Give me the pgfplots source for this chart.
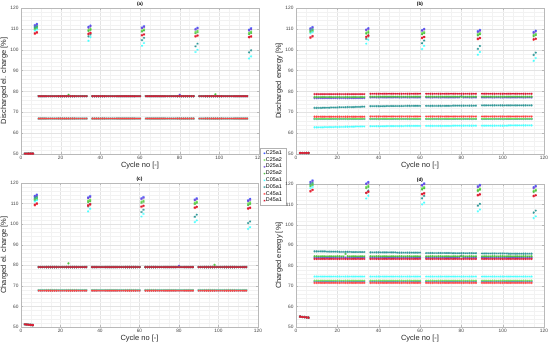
\documentclass[border=0pt]{standalone}
\usepackage{fontspec}
\setmainfont{Liberation Sans}
\usepackage{pgfplots}
\usepackage{pgfplotstable}
\pgfplotsset{compat=1.18}
\definecolor{cCa}{rgb}{0.25,0.35,1}
\definecolor{cCb}{rgb}{0.45,0.9,0.35}
\definecolor{cDa}{rgb}{0.45,0.3,0.85}
\definecolor{cDb}{rgb}{0.3,0.75,0.25}
\definecolor{cCf}{rgb}{0.3,1,1}
\definecolor{cDf}{rgb}{0.2,0.6,0.6}
\definecolor{cCr}{rgb}{1,0.25,0.25}
\definecolor{cDr}{rgb}{0.85,0.1,0.2}

\pgfplotstableread{
x c1 c2 d1 d2 c5 d5 c4 d4
2 50.2 50.2 50.2 50.2 50.2 50.2 50.2 50.2
3 50.2 50.2 50.2 50.2 50.2 50.2 50.2 50.2
4 50.2 50.2 50.2 50.2 50.2 50.2 50.2 50.2
5 50.2 50.2 50.2 50.2 50.2 50.2 50.2 50.2
6 50.2 50.2 50.2 50.2 50.2 50.2 50.2 50.2
7 111.8 110.4 111.4 109.9 109.2 110.8 107.6 107.9
8 112.4 110.9 112.0 110.4 109.7 111.3 108.1 108.4
9 67 67 77.7 77.7 67 77.7 67 77.7
10 67 67 77.7 77.7 67 77.7 67 77.7
11 67 67 77.7 77.7 67 77.7 67 77.7
12 67 67 77.7 77.7 67 77.7 67 77.7
13 67 67 77.7 77.7 67 77.7 67 77.7
14 67 67 77.7 77.7 67 77.7 67 77.7
15 67 67 77.7 77.7 67 77.7 67 77.7
16 67 67 77.7 77.7 67 77.7 67 77.7
17 67 67 77.7 77.7 67 77.7 67 77.7
18 67 67 77.7 77.7 67 77.7 67 77.7
19 67 67 77.7 77.7 67 77.7 67 77.7
20 67 67 77.7 77.7 67 77.7 67 77.7
21 67 67 77.7 77.7 67 77.7 67 77.7
22 67 67 77.7 77.7 67 77.7 67 77.7
23 67 67 77.7 77.7 67 77.7 67 77.7
24 67 67 77.7 78.4 67 77.7 67 77.7
25 67 67 77.7 77.7 67 77.7 67 77.7
26 67 67 77.7 77.7 67 77.7 67 77.7
27 67 67 77.7 77.7 67 77.7 67 77.7
28 67 67 77.7 77.7 67 77.7 67 77.7
29 67 67 77.7 77.7 67 77.7 67 77.7
30 67 67 77.7 77.7 67 77.7 67 77.7
31 67 67 77.7 77.7 67 77.7 67 77.7
32 67 67 77.7 77.7 67 77.7 67 77.7
33 67 67 77.7 77.7 67 77.7 67 77.7
34 111.0 109.6 110.6 109.0 104.3 106.4 107.4 107.7
35 111.6 110.1 111.2 109.5 106.0 107.3 107.9 108.1
36 67 67 77.7 77.7 67 77.7 67 77.7
37 67 67 77.7 77.7 67 77.7 67 77.7
38 67 67 77.7 77.7 67 77.7 67 77.7
39 67 67 77.7 77.7 67 77.7 67 77.7
40 67 67 77.7 77.7 67 77.7 67 77.7
41 67 67 77.7 77.7 67 77.7 67 77.7
42 67 67 77.7 77.7 67 77.7 67 77.7
43 67 67 77.7 77.7 67 77.7 67 77.7
44 67 67 77.7 77.7 67 77.7 67 77.7
45 67 67 77.7 77.7 67 77.7 67 77.7
46 67 67 77.7 77.7 67 77.7 67 77.7
47 67 67 77.7 77.7 67 77.7 67 77.7
48 67 67 77.7 77.7 67 77.7 67 77.7
49 67 67 77.7 77.7 67 77.7 67 77.7
50 67 67 77.7 77.7 67 77.7 67 77.7
51 67 67 77.7 77.7 67 77.7 67 77.7
52 67 67 77.7 77.7 67 77.7 67 77.7
53 67 67 77.7 77.7 67 77.7 67 77.7
54 67 67 77.7 77.7 67 77.7 67 77.7
55 67 67 77.7 77.7 67 77.7 67 77.7
56 67 67 77.7 77.7 67 77.7 67 77.7
57 67 67 77.7 77.7 67 77.7 67 77.7
58 67 67 77.7 77.7 67 77.7 67 77.7
59 67 67 77.7 77.7 67 77.7 67 77.7
60 67 67 77.7 77.7 67 77.7 67 77.7
61 110.7 109.3 110.3 108.7 101.9 104.6 106.8 107.0
62 111.3 109.8 110.9 109.2 103.2 105.7 107.2 107.4
63 67 67 77.7 77.7 67 77.7 67 77.7
64 67 67 77.7 77.7 67 77.7 67 77.7
65 67 67 77.7 77.7 67 77.7 67 77.7
66 67 67 77.7 77.7 67 77.7 67 77.7
67 67 67 77.7 77.7 67 77.7 67 77.7
68 67 67 77.7 77.7 67 77.7 67 77.7
69 67 67 77.7 77.7 67 77.7 67 77.7
70 67 67 77.7 77.7 67 77.7 67 77.7
71 67 67 77.7 77.7 67 77.7 67 77.7
72 67 67 77.7 77.7 67 77.7 67 77.7
73 67 67 77.7 77.7 67 77.7 67 77.7
74 67 67 77.7 77.7 67 77.7 67 77.7
75 67 67 77.7 77.7 67 77.7 67 77.7
76 67 67 77.7 77.7 67 77.7 67 77.7
77 67 67 77.7 77.7 67 77.7 67 77.7
78 67 67 77.7 77.7 67 77.7 67 77.7
79 67 67 77.7 77.7 67 77.7 67 77.7
80 67 67 78.4 77.7 67 77.7 67 77.7
81 67 67 77.7 77.7 67 77.7 67 77.7
82 67 67 77.7 77.7 67 77.7 67 77.7
83 67 67 77.7 77.7 67 77.7 67 77.7
84 67 67 77.7 77.7 67 77.7 67 77.7
85 67 67 77.7 77.7 67 77.7 67 77.7
86 67 67 77.7 77.7 67 77.7 67 77.7
87 67 67 77.7 77.7 67 77.7 67 77.7
88 110.0 108.6 109.6 107.9 98.9 101.6 106.3 106.5
89 110.6 109.1 110.2 108.4 100.0 102.9 106.7 106.9
90 67 67 77.7 77.7 67 77.7 67 77.7
91 67 67 77.7 77.7 67 77.7 67 77.7
92 67 67 77.7 77.7 67 77.7 67 77.7
93 67 67 77.7 77.7 67 77.7 67 77.7
94 67 67 77.7 77.7 67 77.7 67 77.7
95 67 67 77.7 77.7 67 77.7 67 77.7
96 67 67 77.7 77.7 67 77.7 67 77.7
97 67 67 77.7 77.7 67 77.7 67 77.7
98 67 67 77.7 78.6 67 77.7 67 77.7
99 67 67 77.7 77.7 67 77.7 67 77.7
100 67 67 77.7 77.7 67 77.7 67 77.7
101 67 67 77.7 77.7 67 77.7 67 77.7
102 67 67 77.7 77.7 67 77.7 67 77.7
103 67 67 77.7 77.7 67 77.7 67 77.7
104 67 67 77.7 77.7 67 77.7 67 77.7
105 67 67 77.7 77.7 67 77.7 67 77.7
106 67 67 77.7 77.7 67 77.7 67 77.7
107 67 67 77.7 77.7 67 77.7 67 77.7
108 67 67 77.7 77.7 67 77.7 67 77.7
109 67 67 77.7 77.7 67 77.7 67 77.7
110 67 67 77.7 77.7 67 77.7 67 77.7
111 67 67 77.7 77.7 67 77.7 67 77.7
112 67 67 77.7 77.7 67 77.7 67 77.7
113 67 67 77.7 77.7 67 77.7 67 77.7
114 67 67 77.7 77.7 67 77.7 67 77.7
115 109.6 108.2 109.2 107.5 95.8 98.7 105.9 106.1
116 110.3 108.7 109.8 108.0 96.8 99.7 106.3 106.4
}\tA

\pgfplotstableread{
x c1 c2 d1 d2 c5 d5 c4 d4
2 50.5 50.5 50.5 50.5 50.5 50.5 50.5 50.5
3 50.5 50.5 50.5 50.5 50.5 50.5 50.5 50.5
4 50.5 50.5 50.5 50.5 50.5 50.5 50.5 50.5
5 50.5 50.5 50.5 50.5 50.5 50.5 50.5 50.5
6 50.5 50.5 50.5 50.5 50.5 50.5 50.5 50.5
7 110.3 108.9 110.0 108.4 107.8 109.4 105.6 106.0
8 110.9 109.4 110.6 108.9 108.4 109.9 106.3 106.6
9 66.8 66.9 76.8 77.3 62.8 72.1 67.9 78.7
10 66.8 66.9 76.8 77.3 62.8 72.1 67.9 78.7
11 66.8 66.9 76.8 77.3 62.8 72.1 67.9 78.7
12 66.8 66.9 76.8 77.3 62.8 72.1 67.9 78.7
13 66.8 66.9 76.8 77.3 62.8 72.2 67.9 78.7
14 66.8 66.9 76.8 77.3 62.9 72.2 67.9 78.7
15 66.8 66.9 76.8 77.3 62.9 72.2 67.9 78.7
16 66.8 66.9 76.8 77.3 62.9 72.2 67.9 78.7
17 66.8 66.9 76.8 77.3 62.9 72.3 67.9 78.7
18 66.8 66.9 76.8 77.3 62.9 72.3 67.9 78.7
19 66.8 66.9 76.8 77.3 63.0 72.3 67.9 78.7
20 66.8 66.9 76.8 77.3 63.0 72.3 67.9 78.7
21 66.8 66.9 76.8 77.3 63.0 72.4 67.9 78.7
22 66.8 66.9 76.8 77.3 63.0 72.4 67.9 78.7
23 66.8 66.9 76.8 77.3 63.0 72.4 67.9 78.7
24 66.8 66.9 76.8 77.3 63.1 72.4 67.9 78.7
25 66.8 66.9 76.8 77.3 63.1 72.5 67.9 78.7
26 66.8 66.9 76.8 77.3 63.1 72.5 67.9 78.7
27 66.8 66.9 76.8 77.3 63.1 72.5 67.9 78.7
28 66.8 66.9 76.8 77.3 63.1 72.5 67.9 78.7
29 66.8 66.9 76.8 77.3 63.2 72.6 67.9 78.7
30 66.8 66.9 76.8 77.3 63.2 72.6 67.9 78.7
31 66.8 66.9 76.8 77.3 63.2 72.6 67.9 78.7
32 66.8 66.9 76.8 77.3 63.2 72.7 67.9 78.7
33 66.8 66.9 76.8 77.3 63.2 72.7 67.9 78.7
34 109.7 108.3 109.4 107.7 102.9 105.2 105.9 106.3
35 110.3 108.8 110.0 108.2 104.8 106.4 106.6 106.9
36 66.8 66.9 77.1 77.5 63.3 72.9 68.0 78.9
37 66.8 66.9 77.1 77.5 63.3 72.9 68.0 78.9
38 66.8 66.9 77.1 77.5 63.3 72.9 68.0 78.9
39 66.8 66.9 77.1 77.5 63.3 72.9 68.0 78.9
40 66.8 66.9 77.1 77.5 63.3 72.9 68.0 78.9
41 66.8 66.9 77.1 77.5 63.3 72.9 68.0 78.9
42 66.8 66.9 77.1 77.5 63.3 72.9 68.0 78.9
43 66.8 66.9 77.1 77.5 63.3 72.9 68.0 78.9
44 66.8 66.9 77.1 77.5 63.4 73.0 68.0 78.9
45 66.8 66.9 77.1 77.5 63.4 73.0 68.0 78.9
46 66.8 66.9 77.1 77.5 63.4 73.0 68.0 78.9
47 66.8 66.9 77.1 77.5 63.4 73.0 68.0 78.9
48 66.8 66.9 77.1 77.5 63.4 73.0 68.0 78.9
49 66.8 66.9 77.1 77.5 63.4 73.0 68.0 78.9
50 66.8 66.9 77.1 77.5 63.4 73.0 68.0 78.9
51 66.8 66.9 77.1 77.5 63.4 73.0 68.0 78.9
52 66.8 66.9 77.1 77.5 63.4 73.0 68.0 78.9
53 66.8 66.9 77.1 77.5 63.5 73.1 68.0 78.9
54 66.8 66.9 77.1 77.5 63.5 73.1 68.0 78.9
55 66.8 66.9 77.1 77.5 63.5 73.1 68.0 78.9
56 66.8 66.9 77.1 77.5 63.5 73.1 68.0 78.9
57 66.8 66.9 77.1 77.5 63.5 73.1 68.0 78.9
58 66.8 66.9 77.1 77.5 63.5 73.1 68.0 78.9
59 66.8 66.9 77.1 77.5 63.5 73.1 68.0 78.9
60 66.8 66.9 77.1 77.5 63.5 73.1 68.0 78.9
61 109.4 108.0 109.1 107.4 100.3 103.1 105.5 105.8
62 110.0 108.5 109.7 107.9 101.9 104.4 106.0 106.2
63 66.8 66.9 77.1 77.5 63.5 73.1 68.0 78.9
64 66.8 66.9 77.1 77.5 63.5 73.1 68.0 78.9
65 66.8 66.9 77.1 77.5 63.5 73.1 68.0 78.9
66 66.8 66.9 77.1 77.5 63.5 73.1 68.0 78.9
67 66.8 66.9 77.1 77.5 63.5 73.1 68.0 78.9
68 66.8 66.9 77.1 77.5 63.5 73.1 68.0 78.9
69 66.8 66.9 77.1 77.5 63.5 73.1 68.0 78.9
70 66.8 66.9 77.1 77.5 63.5 73.1 68.0 78.9
71 66.8 66.9 77.1 77.5 63.5 73.1 68.0 78.9
72 66.8 66.9 77.1 77.5 63.5 73.1 68.0 78.9
73 66.8 66.9 77.1 77.5 63.5 73.1 68.0 78.9
74 66.8 66.9 77.1 77.5 63.5 73.1 68.0 78.9
75 66.8 66.9 77.1 77.5 63.5 73.1 68.0 78.9
76 66.8 66.9 77.1 77.5 63.6 73.2 68.0 78.9
77 66.8 66.9 77.1 77.5 63.6 73.2 68.0 78.9
78 66.8 66.9 77.1 77.5 63.6 73.2 68.0 78.9
79 66.8 66.9 77.1 77.5 63.6 73.2 68.0 78.9
80 66.8 66.9 77.6 77.5 63.6 73.2 68.0 78.9
81 66.8 66.9 77.1 77.5 63.6 73.2 68.0 78.9
82 66.8 66.9 77.1 77.5 63.6 73.2 68.0 78.9
83 66.8 66.9 77.1 77.5 63.6 73.2 68.0 78.9
84 66.8 66.9 77.1 77.5 63.6 73.2 68.0 78.9
85 66.8 66.9 77.1 77.5 63.6 73.2 68.0 78.9
86 66.8 66.9 77.1 77.5 63.6 73.2 68.0 78.9
87 66.8 66.9 77.1 77.5 63.6 73.2 68.0 78.9
88 108.9 107.5 108.5 106.9 97.6 100.4 105.0 105.3
89 109.5 108.0 109.1 107.4 98.9 101.8 105.5 105.7
90 66.8 66.9 77.1 77.5 63.6 73.3 68.0 78.9
91 66.8 66.9 77.1 77.5 63.6 73.3 68.0 78.9
92 66.8 66.9 77.1 77.5 63.6 73.3 68.0 78.9
93 66.8 66.9 77.1 77.5 63.6 73.3 68.0 78.9
94 66.8 66.9 77.1 77.5 63.6 73.3 68.0 78.9
95 66.8 66.9 77.1 77.5 63.6 73.3 68.0 78.9
96 66.8 66.9 77.1 77.5 63.6 73.3 68.0 78.9
97 66.8 66.9 77.1 77.5 63.6 73.3 68.0 78.9
98 66.8 66.9 77.1 77.5 63.6 73.3 68.0 78.9
99 66.8 66.9 77.1 77.5 63.6 73.3 68.0 78.9
100 66.8 66.9 77.1 77.5 63.6 73.3 68.0 78.9
101 66.8 66.9 77.1 77.5 63.6 73.3 68.0 78.9
102 66.8 66.9 77.1 77.5 63.6 73.3 68.0 78.9
103 66.8 66.9 77.1 77.5 63.7 73.3 68.0 78.9
104 66.8 66.9 77.1 77.5 63.7 73.3 68.0 78.9
105 66.8 66.9 77.1 77.5 63.7 73.3 68.0 78.9
106 66.8 66.9 77.1 77.5 63.7 73.3 68.0 78.9
107 66.8 66.9 77.1 77.5 63.7 73.3 68.0 78.9
108 66.8 66.9 77.1 77.5 63.7 73.3 68.0 78.9
109 66.8 66.9 77.1 77.5 63.7 73.3 68.0 78.9
110 66.8 66.9 77.1 77.5 63.7 73.3 68.0 78.9
111 66.8 66.9 77.1 77.5 63.7 73.3 68.0 78.9
112 66.8 66.9 77.1 77.5 63.7 73.3 68.0 78.9
113 66.8 66.9 77.1 77.5 63.7 73.3 68.0 78.9
114 66.8 66.9 77.1 77.5 63.7 73.3 68.0 78.9
115 108.5 107.1 108.1 106.5 94.7 97.5 104.8 105.0
116 109.2 107.6 108.7 107.0 96.0 98.6 105.2 105.3
}\tB

\pgfplotstableread{
x c1 c2 d1 d2 c5 d5 c4 d4
2 51.3 51.3 51.3 51.3 51.3 51.3 51.3 51.3
3 51.2 51.2 51.2 51.2 51.2 51.2 51.2 51.2
4 51.1 51.1 51.1 51.1 51.1 51.1 51.1 51.1
5 51.0 51.0 51.0 51.0 51.0 51.0 51.0 51.0
6 50.9 50.9 50.9 50.9 50.9 50.9 50.9 50.9
7 113.8 112.3 113.4 111.7 111.0 112.8 109.1 109.5
8 114.4 112.8 114.0 112.2 111.6 113.3 109.8 110.1
9 67.8 67.9 79.1 79.1 67.8 79.1 67.7 79.1
10 67.8 67.9 79.1 79.1 67.8 79.1 67.7 79.1
11 67.8 67.9 79.1 79.1 67.8 79.1 67.7 79.1
12 67.8 67.9 79.1 79.1 67.8 79.1 67.7 79.1
13 67.8 67.9 79.1 79.1 67.8 79.1 67.7 79.1
14 67.8 67.9 79.1 79.1 67.8 79.1 67.7 79.1
15 67.8 67.9 79.1 79.1 67.8 79.1 67.7 79.1
16 67.8 67.9 79.1 79.1 67.8 79.1 67.7 79.1
17 67.8 67.9 79.1 79.1 67.8 79.1 67.7 79.1
18 67.8 67.9 79.1 79.1 67.8 79.1 67.7 79.1
19 67.8 67.9 79.1 79.1 67.8 79.1 67.7 79.1
20 67.8 67.9 79.1 79.1 67.8 79.1 67.7 79.1
21 67.8 67.9 79.1 79.1 67.8 79.1 67.7 79.1
22 67.8 67.9 79.1 79.1 67.8 79.1 67.7 79.1
23 67.8 67.9 79.1 79.1 67.8 79.1 67.7 79.1
24 67.8 67.9 79.1 80.9 67.8 79.1 67.7 79.1
25 67.8 67.9 79.1 79.1 67.8 79.1 67.7 79.1
26 67.8 67.9 79.1 79.1 67.8 79.1 67.7 79.1
27 67.8 67.9 79.1 79.1 67.8 79.1 67.7 79.1
28 67.8 67.9 79.1 79.1 67.8 79.1 67.7 79.1
29 67.8 67.9 79.1 79.1 67.8 79.1 67.7 79.1
30 67.8 67.9 79.1 79.1 67.8 79.1 67.7 79.1
31 67.8 67.9 79.1 79.1 67.8 79.1 67.7 79.1
32 67.8 67.9 79.1 79.1 67.8 79.1 67.7 79.1
33 67.8 67.9 79.1 79.1 67.8 79.1 67.7 79.1
34 113.0 111.4 112.6 110.7 106.2 108.6 108.9 109.2
35 113.6 111.9 113.2 111.2 107.5 109.6 109.5 109.7
36 67.8 67.9 79.1 79.1 67.8 79.1 67.7 79.1
37 67.8 67.9 79.1 79.1 67.8 79.1 67.7 79.1
38 67.8 67.9 79.1 79.1 67.8 79.1 67.7 79.1
39 67.8 67.9 79.1 79.1 67.8 79.1 67.7 79.1
40 67.8 67.9 79.1 79.1 67.8 79.1 67.7 79.1
41 67.8 67.9 79.1 79.1 67.8 79.1 67.7 79.1
42 67.8 67.9 79.1 79.1 67.8 79.1 67.7 79.1
43 67.8 67.9 79.1 79.1 67.8 79.1 67.7 79.1
44 67.8 67.9 79.1 79.1 67.8 79.1 67.7 79.1
45 67.8 67.9 79.1 79.1 67.8 79.1 67.7 79.1
46 67.8 67.9 79.1 79.1 67.8 79.1 67.7 79.1
47 67.8 67.9 79.1 79.1 67.8 79.1 67.7 79.1
48 67.8 67.9 79.1 79.1 67.8 79.1 67.7 79.1
49 67.8 67.9 79.1 79.1 67.8 79.1 67.7 79.1
50 67.8 67.9 79.1 79.1 67.8 79.1 67.7 79.1
51 67.8 67.9 79.1 79.1 67.8 79.1 67.7 79.1
52 67.8 67.9 79.1 79.1 67.8 79.1 67.7 79.1
53 67.8 67.9 79.1 79.1 67.8 79.1 67.7 79.1
54 67.8 67.9 79.1 79.1 67.8 79.1 67.7 79.1
55 67.8 67.9 79.1 79.1 67.8 79.1 67.7 79.1
56 67.8 67.9 79.1 79.1 67.8 79.1 67.7 79.1
57 67.8 67.9 79.1 79.1 67.8 79.1 67.7 79.1
58 67.8 67.9 79.1 79.1 67.8 79.1 67.7 79.1
59 67.8 67.9 79.1 79.1 67.8 79.1 67.7 79.1
60 67.8 67.9 79.1 79.1 67.8 79.1 67.7 79.1
61 112.6 111.0 112.2 110.3 103.7 105.9 108.4 108.6
62 113.2 111.5 112.8 110.8 105.0 107.0 108.8 109.0
63 67.8 67.9 79.1 79.1 67.8 79.1 67.7 79.1
64 67.8 67.9 79.1 79.1 67.8 79.1 67.7 79.1
65 67.8 67.9 79.1 79.1 67.8 79.1 67.7 79.1
66 67.8 67.9 79.1 79.1 67.8 79.1 67.7 79.1
67 67.8 67.9 79.1 79.1 67.8 79.1 67.7 79.1
68 67.8 67.9 79.1 79.1 67.8 79.1 67.7 79.1
69 67.8 67.9 79.1 79.1 67.8 79.1 67.7 79.1
70 67.8 67.9 79.1 79.1 67.8 79.1 67.7 79.1
71 67.8 67.9 79.1 79.1 67.8 79.1 67.7 79.1
72 67.8 67.9 79.1 79.1 67.8 79.1 67.7 79.1
73 67.8 67.9 79.1 79.1 67.8 79.1 67.7 79.1
74 67.8 67.9 79.1 79.1 67.8 79.1 67.7 79.1
75 67.8 67.9 79.1 79.1 67.8 79.1 67.7 79.1
76 67.8 67.9 79.1 79.1 67.8 79.1 67.7 79.1
77 67.8 67.9 79.1 79.1 67.8 79.1 67.7 79.1
78 67.8 67.9 79.1 79.1 67.8 79.1 67.7 79.1
79 67.8 67.9 79.1 79.1 67.8 79.1 67.7 79.1
80 67.8 67.9 79.8 79.1 67.8 79.1 67.7 79.1
81 67.8 67.9 79.1 79.1 67.8 79.1 67.7 79.1
82 67.8 67.9 79.1 79.1 67.8 79.1 67.7 79.1
83 67.8 67.9 79.1 79.1 67.8 79.1 67.7 79.1
84 67.8 67.9 79.1 79.1 67.8 79.1 67.7 79.1
85 67.8 67.9 79.1 79.1 67.8 79.1 67.7 79.1
86 67.8 67.9 79.1 79.1 67.8 79.1 67.7 79.1
87 67.8 67.9 79.1 79.1 67.8 79.1 67.7 79.1
88 112.0 110.5 111.6 109.8 101.0 103.6 107.9 108.1
89 112.6 111.0 112.2 110.3 101.8 104.6 108.3 108.5
90 67.8 67.9 79.1 79.1 67.8 79.1 67.7 79.1
91 67.8 67.9 79.1 79.1 67.8 79.1 67.7 79.1
92 67.8 67.9 79.1 79.1 67.8 79.1 67.7 79.1
93 67.8 67.9 79.1 79.1 67.8 79.1 67.7 79.1
94 67.8 67.9 79.1 79.1 67.8 79.1 67.7 79.1
95 67.8 67.9 79.1 79.1 67.8 79.1 67.7 79.1
96 67.8 67.9 79.1 79.1 67.8 79.1 67.7 79.1
97 67.8 67.9 79.1 79.1 67.8 79.1 67.7 79.1
98 67.8 67.9 79.1 80.2 67.8 79.1 67.7 79.1
99 67.8 67.9 79.1 79.1 67.8 79.1 67.7 79.1
100 67.8 67.9 79.1 79.1 67.8 79.1 67.7 79.1
101 67.8 67.9 79.1 79.1 67.8 79.1 67.7 79.1
102 67.8 67.9 79.1 79.1 67.8 79.1 67.7 79.1
103 67.8 67.9 79.1 79.1 67.8 79.1 67.7 79.1
104 67.8 67.9 79.1 79.1 67.8 79.1 67.7 79.1
105 67.8 67.9 79.1 79.1 67.8 79.1 67.7 79.1
106 67.8 67.9 79.1 79.1 67.8 79.1 67.7 79.1
107 67.8 67.9 79.1 79.1 67.8 79.1 67.7 79.1
108 67.8 67.9 79.1 79.1 67.8 79.1 67.7 79.1
109 67.8 67.9 79.1 79.1 67.8 79.1 67.7 79.1
110 67.8 67.9 79.1 79.1 67.8 79.1 67.7 79.1
111 67.8 67.9 79.1 79.1 67.8 79.1 67.7 79.1
112 67.8 67.9 79.1 79.1 67.8 79.1 67.7 79.1
113 67.8 67.9 79.1 79.1 67.8 79.1 67.7 79.1
114 67.8 67.9 79.1 79.1 67.8 79.1 67.7 79.1
115 111.6 110.1 111.2 109.3 97.7 100.5 107.5 107.7
116 112.3 110.6 111.8 109.8 98.5 101.3 107.9 108.0
}\tC

\pgfplotstableread{
x c1 c2 d1 d2 c5 d5 c4 d4
2 55.1 55.1 55.1 55.1 55.1 55.1 55.1 55.1
3 54.9 54.9 54.9 54.9 54.9 54.9 54.9 54.9
4 54.8 54.8 54.8 54.8 54.8 54.8 54.8 54.8
5 54.7 54.7 54.7 54.7 54.7 54.7 54.7 54.7
6 54.6 54.6 54.6 54.6 54.6 54.6 54.6 54.6
7 121.1 119.5 120.7 118.9 118.0 120.0 116.3 116.6
8 121.8 120.1 121.4 119.5 118.6 120.6 117.0 117.2
9 72.3 72.7 84.0 84.6 74.7 87.0 71.6 83.3
10 72.3 72.7 84.0 84.6 74.7 87.0 71.6 83.3
11 72.3 72.7 84.0 84.6 74.7 87.0 71.6 83.3
12 72.3 72.7 84.0 84.6 74.7 87.0 71.6 83.3
13 72.3 72.7 84.0 84.6 74.7 87.0 71.6 83.3
14 72.3 72.7 84.0 84.6 74.7 87.0 71.6 83.3
15 72.3 72.7 84.0 84.6 74.7 86.9 71.6 83.3
16 72.3 72.7 84.0 84.6 74.7 86.9 71.6 83.3
17 72.3 72.7 84.0 84.6 74.7 86.9 71.6 83.3
18 72.3 72.7 84.0 84.6 74.7 86.9 71.6 83.3
19 72.3 72.7 84.0 84.6 74.7 86.9 71.6 83.3
20 72.3 72.7 84.0 84.6 74.7 86.9 71.6 83.3
21 72.3 72.7 84.0 84.6 74.7 86.8 71.6 83.3
22 72.3 72.7 84.0 84.6 74.7 86.8 71.6 83.3
23 72.3 72.7 84.0 84.6 74.7 86.8 71.6 83.3
24 72.3 72.7 84.0 85.8 74.7 86.8 71.6 83.3
25 72.3 72.7 84.0 84.6 74.7 86.8 71.6 83.3
26 72.3 72.7 84.0 84.6 74.7 86.8 71.6 83.3
27 72.3 72.7 84.0 84.6 74.7 86.7 71.6 83.3
28 72.3 72.7 84.0 84.6 74.7 86.7 71.6 83.3
29 72.3 72.7 84.0 84.6 74.7 86.7 71.6 83.3
30 72.3 72.7 84.0 84.6 74.7 86.7 71.6 83.3
31 72.3 72.7 84.0 84.6 74.7 86.7 71.6 83.3
32 72.3 72.7 84.0 84.6 74.7 86.7 71.6 83.3
33 72.3 72.7 84.0 84.6 74.7 86.7 71.6 83.3
34 120.3 118.6 119.9 118.0 112.9 115.6 115.5 115.8
35 121.0 119.2 120.6 118.6 114.3 116.8 116.2 116.3
36 72.3 72.7 84.0 84.6 74.7 86.5 71.6 83.3
37 72.3 72.7 84.0 84.6 74.7 86.5 71.6 83.3
38 72.3 72.7 84.0 84.6 74.7 86.5 71.6 83.3
39 72.3 72.7 84.0 84.6 74.7 86.5 71.6 83.3
40 72.3 72.7 84.0 84.6 74.7 86.5 71.6 83.3
41 72.3 72.7 84.0 84.6 74.7 86.5 71.6 83.3
42 72.3 72.7 84.0 84.6 74.7 86.5 71.6 83.3
43 72.3 72.7 84.0 84.6 74.7 86.5 71.6 83.3
44 72.3 72.7 84.0 84.6 74.7 86.5 71.6 83.3
45 72.3 72.7 84.0 84.6 74.7 86.5 71.6 83.3
46 72.3 72.7 84.0 84.6 74.7 86.5 71.6 83.3
47 72.3 72.7 84.0 84.6 74.7 86.5 71.6 83.3
48 72.3 72.7 84.0 84.6 74.7 86.5 71.6 83.3
49 72.3 72.7 84.0 84.6 74.7 86.4 71.6 83.3
50 72.3 72.7 84.0 84.6 74.7 86.4 71.6 83.3
51 72.3 72.7 84.0 84.6 74.7 86.4 71.6 83.3
52 72.3 72.7 84.0 84.6 74.7 86.4 71.6 83.3
53 72.3 72.7 84.0 84.6 74.7 86.4 71.6 83.3
54 72.3 72.7 84.0 84.6 74.7 86.4 71.6 83.3
55 72.3 72.7 84.0 84.6 74.7 86.4 71.6 83.3
56 72.3 72.7 84.0 84.6 74.7 86.4 71.6 83.3
57 72.3 72.7 84.0 84.6 74.7 86.4 71.6 83.3
58 72.3 72.7 84.0 84.6 74.7 86.4 71.6 83.3
59 72.3 72.7 84.0 84.6 74.7 86.4 71.6 83.3
60 72.3 72.7 84.0 84.6 74.7 86.4 71.6 83.3
61 119.6 117.9 119.2 117.3 110.0 113.0 114.9 115.1
62 120.3 118.5 119.9 117.9 110.9 114.2 115.3 115.5
63 72.3 72.7 84.0 84.6 74.7 86.2 71.6 83.3
64 72.3 72.7 84.0 84.6 74.7 86.2 71.6 83.3
65 72.3 72.7 84.0 84.6 74.7 86.2 71.6 83.3
66 72.3 72.7 84.0 84.6 74.7 86.2 71.6 83.3
67 72.3 72.7 84.0 84.6 74.7 86.2 71.6 83.3
68 72.3 72.7 84.0 84.6 74.7 86.2 71.6 83.3
69 72.3 72.7 84.0 84.6 74.7 86.2 71.6 83.3
70 72.3 72.7 84.0 84.6 74.7 86.2 71.6 83.3
71 72.3 72.7 84.0 84.6 74.7 86.2 71.6 83.3
72 72.3 72.7 84.0 84.6 74.7 86.2 71.6 83.3
73 72.3 72.7 84.0 84.6 74.7 86.2 71.6 83.3
74 72.3 72.7 84.0 84.6 74.7 86.2 71.6 83.3
75 72.3 72.7 84.0 84.6 74.7 86.2 71.6 83.3
76 72.3 72.7 84.0 84.6 74.7 86.1 71.6 83.3
77 72.3 72.7 84.0 84.6 74.7 86.1 71.6 83.3
78 72.3 72.7 84.0 84.6 74.7 86.1 71.6 83.3
79 72.3 72.7 84.0 84.6 74.7 86.1 71.6 83.3
80 72.3 72.7 84.8 84.6 74.7 86.1 71.6 83.3
81 72.3 72.7 84.0 84.6 74.7 86.1 71.6 83.3
82 72.3 72.7 84.0 84.6 74.7 86.1 71.6 83.3
83 72.3 72.7 84.0 84.6 74.7 86.1 71.6 83.3
84 72.3 72.7 84.0 84.6 74.7 86.1 71.6 83.3
85 72.3 72.7 84.0 84.6 74.7 86.1 71.6 83.3
86 72.3 72.7 84.0 84.6 74.7 86.1 71.6 83.3
87 72.3 72.7 84.0 84.6 74.7 86.1 71.6 83.3
88 118.9 117.2 118.5 116.6 106.6 109.4 114.4 114.6
89 119.6 117.8 119.2 117.2 107.5 110.3 114.8 115.0
90 72.3 72.7 84.0 84.6 74.7 86.0 71.6 83.3
91 72.3 72.7 84.0 84.6 74.7 86.0 71.6 83.3
92 72.3 72.7 84.0 84.6 74.7 86.0 71.6 83.3
93 72.3 72.7 84.0 84.6 74.7 86.0 71.6 83.3
94 72.3 72.7 84.0 84.6 74.7 86.0 71.6 83.3
95 72.3 72.7 84.0 84.6 74.7 86.0 71.6 83.3
96 72.3 72.7 84.0 84.6 74.7 86.0 71.6 83.3
97 72.3 72.7 84.0 84.6 74.7 86.0 71.6 83.3
98 72.3 72.7 84.0 84.6 74.7 86.0 71.6 83.3
99 72.3 72.7 84.0 84.6 74.7 86.0 71.6 83.3
100 72.3 72.7 84.0 84.6 74.7 86.0 71.6 83.3
101 72.3 72.7 84.0 84.6 74.7 86.0 71.6 83.3
102 72.3 72.7 84.0 84.6 74.7 86.0 71.6 83.3
103 72.3 72.7 84.0 84.6 74.7 85.9 71.6 83.3
104 72.3 72.7 84.0 84.6 74.7 85.9 71.6 83.3
105 72.3 72.7 84.0 84.6 74.7 85.9 71.6 83.3
106 72.3 72.7 84.0 84.6 74.7 85.9 71.6 83.3
107 72.3 72.7 84.0 84.6 74.7 85.9 71.6 83.3
108 72.3 72.7 84.0 84.6 74.7 85.9 71.6 83.3
109 72.3 72.7 84.0 84.6 74.7 85.9 71.6 83.3
110 72.3 72.7 84.0 84.6 74.7 85.9 71.6 83.3
111 72.3 72.7 84.0 84.6 74.7 85.9 71.6 83.3
112 72.3 72.7 84.0 84.6 74.7 85.9 71.6 83.3
113 72.3 72.7 84.0 84.6 74.7 85.9 71.6 83.3
114 72.3 72.7 84.0 84.6 74.7 85.9 71.6 83.3
115 118.4 116.7 118.0 116.1 103.3 106.0 114.0 114.2
116 119.1 117.3 118.7 116.7 104.2 107.0 114.4 114.5
}\tD

\pgfplotsset{
  every axis title/.style={at={(0.5,1)}, anchor=south, inner sep=0.6pt, yshift=0.5pt},
  myax/.style={
    scale only axis, clip=false,
    xmin=0, xmax=120, ymin=50, ymax=120,
    xtick={0,20,...,120}, ytick={50,60,...,120},
    minor x tick num=3, minor y tick num=4,
    grid=both,
    major grid style={gray!22, line width=0.3pt},
    minor grid style={gray!10, line width=0.2pt},
    axis line style={gray!55, line width=0.4pt},
    tick style={gray!55, line width=0.3pt},
    major tick length=2pt, minor tick length=0pt,
    tick align=inside,
    /pgf/number format/assume math mode=true,
    tick label style={font=\fontsize{4.8}{5.5}\selectfont, text=black!75},
    xticklabel style={yshift=1.5pt},
    yticklabel style={xshift=1pt},
    label style={font=\fontsize{7.5}{9}\selectfont, text=black!85},
    xlabel style={yshift=4.5pt},
    ylabel style={yshift=-4pt},
    title style={font=\bfseries\fontsize{4.8}{5.5}\selectfont},
    every axis plot/.append style={only marks, mark=asterisk, mark size=1.2pt, line width=0.4pt},
  }
}
\newcommand{\plotall}[1]{%
  \addplot[cCa] table[x=x,y=c1]{#1};
  \addplot[cCb] table[x=x,y=c2]{#1};
  \addplot[cDa] table[x=x,y=d1]{#1};
  \addplot[cDb] table[x=x,y=d2]{#1};
  \addplot[cCf] table[x=x,y=c5]{#1};
  \addplot[cDf] table[x=x,y=d5]{#1};
  \addplot[cCr] table[x=x,y=c4]{#1};
  \addplot[cDr] table[x=x,y=d4]{#1};
}

\begin{document}
\begin{tikzpicture}[x=1pt,y=1pt]
\useasboundingbox (0,0) rectangle (550,346);
\begin{axis}[myax, at={(21pt,192pt)}, anchor=south west, width=238pt, height=146pt,
  title={(a)}, xlabel={Cycle no [-]}, ylabel={Discharged el. charge [\%]},
  legend style={at={(1.004,0.041)}, anchor=north west, draw=gray!60, fill=white,
    font=\fontsize{5.4}{5.6}\selectfont, inner xsep=3.5pt, inner ysep=1.8pt, row sep=0.3pt,
    nodes={inner sep=0.6pt},
    /tikz/every even column/.append style={column sep=2.5pt}},
  legend image post style={mark size=1pt},
  legend cell align=left]
\plotall{\tA}
\legend{C25a1,C25a2,D25a1,D25a2,C05a1,D05a1,C45a1,D45a1}
\end{axis}
\begin{axis}[myax, at={(296pt,192pt)}, anchor=south west, width=248pt, height=146pt,
  title={(b)}, xlabel={Cycle no [-]}, ylabel={Discharged energy [\%]}]
\plotall{\tB}
\end{axis}
\begin{axis}[myax, at={(21pt,19pt)}, anchor=south west, width=237pt, height=144pt,
  title={(c)}, xlabel={Cycle no [-]}, ylabel={Charged el. charge [\%]}]
\plotall{\tC}
\end{axis}
\begin{axis}[myax, at={(296pt,19pt)}, anchor=south west, width=248pt, height=143pt,
  title={(d)}, xlabel={Cycle no [-]}, ylabel={Charged energy [\%]}]
\plotall{\tD}
\end{axis}
\end{tikzpicture}
\end{document}
